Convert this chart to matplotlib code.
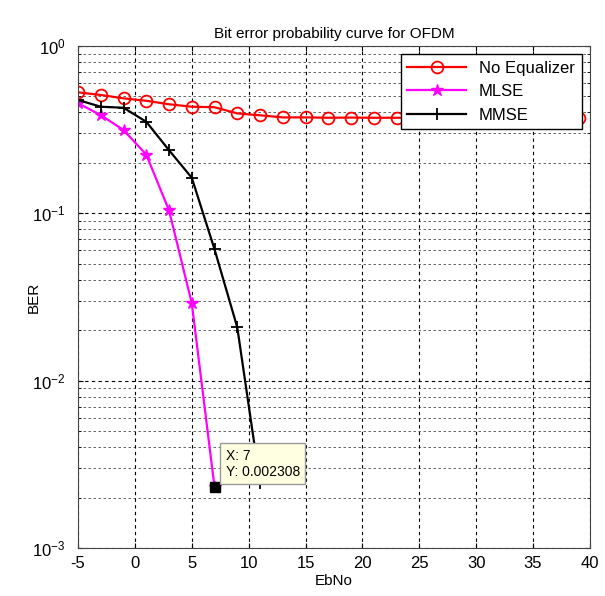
import matplotlib.pyplot as plt
from matplotlib.ticker import LogLocator, NullFormatter

plt.rcParams['font.family'] = ['Liberation Sans', 'DejaVu Sans']
plt.rcParams['axes.unicode_minus'] = False

# data
ebno_noeq = [-5, -3, -1, 1, 3, 5, 7, 9, 11, 13, 15, 17, 19, 21, 23, 25, 27, 29, 31, 33, 35, 37, 39]
ber_noeq = [0.528, 0.509, 0.486, 0.470, 0.448, 0.433, 0.430, 0.395, 0.385, 0.374, 0.374,
            0.372, 0.373, 0.372, 0.372, 0.371, 0.372, 0.371, 0.372, 0.371, 0.372, 0.371, 0.372]
ebno_mlse = [-5, -3, -1, 1, 3, 5, 7]
ber_mlse = [0.454, 0.386, 0.314, 0.224, 0.104, 0.029, 0.002308]
ebno_mmse = [-5, -3, -1, 1, 3, 5, 7, 9, 11]
ber_mmse = [0.475, 0.433, 0.427, 0.352, 0.238, 0.163, 0.0609, 0.0208, 0.00245]

tip_x, tip_y = 7, 0.002308

fig = plt.figure(figsize=(6.05, 5.96), dpi=100)
ax = fig.add_axes([0.129, 0.0805, 0.846, 0.8425])

ax.semilogy(ebno_noeq, ber_noeq, color='red', marker='o', markersize=8.5,
            markerfacecolor='none', markeredgewidth=1.3, linewidth=1.6, label='No Equalizer')
ax.semilogy(ebno_mlse, ber_mlse, color='magenta', marker='*', markersize=9,
            linewidth=1.6, label='MLSE')
ax.semilogy(ebno_mmse, ber_mmse, color='black', marker='+', markersize=9,
            markeredgewidth=1.3, linewidth=1.6, label='MMSE')

ax.set_xlim(-5, 40)
ax.set_ylim(1e-3, 1)
ax.set_xticks(range(-5, 41, 5))
ax.yaxis.set_major_locator(LogLocator(base=10))
ax.yaxis.set_minor_locator(LogLocator(base=10, subs=range(2, 10)))
ax.yaxis.set_minor_formatter(NullFormatter())

# matlab style dotted grid
ax.grid(True, which='major', color='black', linestyle=(0, (3, 3)), linewidth=0.8)
ax.grid(True, which='minor', axis='y', color='black', linestyle=(0, (3, 3)), linewidth=0.6, alpha=0.7)
ax.tick_params(direction='in', top=True, right=True, labelsize=12)
ax.tick_params(axis='y', pad=9)
ax.tick_params(axis='x', pad=6)
ax.tick_params(which='minor', direction='in', right=True)
for s in ax.spines.values():
    s.set_color('#444444')

ax.set_title('Bit error probability curve for OFDM', fontsize=11)
ax.set_xlabel('EbNo', fontsize=11, labelpad=2)
ax.set_ylabel('BER', fontsize=11, labelpad=-6)

ax.legend(loc='upper right', fontsize=12, handlelength=3.5, fancybox=False,
          edgecolor='black', framealpha=1, borderaxespad=0.5)

# data tip
ax.plot([tip_x], [tip_y], marker='s', color='black', markersize=7)
ax.annotate('X: 7\nY: 0.002308', xy=(tip_x, tip_y), xytext=(8, 6),
            textcoords='offset points', fontsize=10, va='bottom', ha='left',
            bbox=dict(boxstyle='square,pad=0.4', facecolor='#ffffe1', edgecolor='#999999'))

plt.savefig('out.png', dpi=100)
